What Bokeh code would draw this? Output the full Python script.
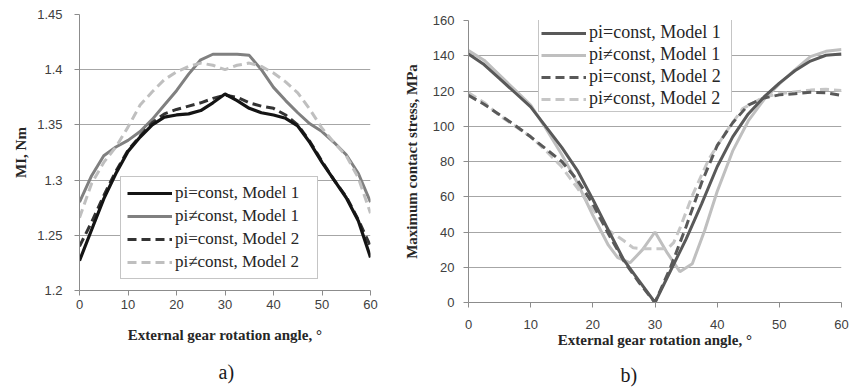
from bokeh.plotting import figure
from bokeh.layouts import row, column
from bokeh.models import Legend, LegendItem, Title, FixedTicker, NumeralTickFormatter, Range1d
from bokeh.embed import file_html
from bokeh.resources import INLINE

# ---------- panel a) data ----------
angle_a = [0, 2.5, 5, 7.5, 10, 12.5, 15, 17.5, 20, 22.5, 25, 27.5, 30,
           32.5, 35, 37.5, 40, 42.5, 45, 47.5, 50, 52.5, 55, 57.5, 60]
ml_const_m1 = [1.227, 1.255, 1.283, 1.306, 1.326, 1.339, 1.350, 1.357, 1.359, 1.360, 1.363, 1.370, 1.378,
               1.372, 1.365, 1.361, 1.359, 1.356, 1.349, 1.334, 1.316, 1.300, 1.284, 1.263, 1.230]
ml_var_m1 = [1.280, 1.304, 1.322, 1.330, 1.336, 1.344, 1.355, 1.368, 1.381, 1.396, 1.409, 1.414, 1.414,
             1.414, 1.413, 1.400, 1.384, 1.372, 1.361, 1.351, 1.344, 1.334, 1.323, 1.306, 1.280]
ml_const_m2 = [1.240, 1.262, 1.286, 1.308, 1.327, 1.340, 1.352, 1.360, 1.364, 1.367, 1.370, 1.374, 1.377,
               1.375, 1.370, 1.367, 1.365, 1.359, 1.350, 1.335, 1.317, 1.300, 1.285, 1.264, 1.240]
ml_var_m2 = [1.266, 1.297, 1.316, 1.330, 1.348, 1.368, 1.380, 1.391, 1.398, 1.403, 1.406, 1.404, 1.400,
             1.404, 1.406, 1.403, 1.397, 1.389, 1.379, 1.364, 1.347, 1.334, 1.322, 1.302, 1.270]

# ---------- panel b) data ----------
angle_b = [0, 2.5, 5, 7.5, 10, 12.5, 15, 17.5, 20, 22.5, 25, 27.5, 30,
           32.5, 35, 37.5, 40, 42.5, 45, 47.5, 50, 52.5, 55, 57.5, 60]
st_const_m1 = [141, 135, 127, 119, 111, 99.5, 88, 75, 58.5, 41, 24, 12, 0,
               18, 36, 56, 77, 94, 107, 116.5, 124.5, 131.5, 137, 140.3, 141]
st_const_m2 = [117.5, 112.5, 106.5, 100.5, 94, 87, 80, 69.5, 56, 39, 23.5, 11, 0,
               20, 43, 68, 89, 102, 112, 116, 117.8, 118.5, 119.3, 119, 117.5]

angle_b_var1 = [0, 2.5, 5, 7.5, 10, 12.5, 15, 17.5, 20, 22.5, 24, 26, 28, 30,
                32, 34, 36, 38, 40, 42.5, 45, 47.5, 50, 52.5, 55, 57.5, 60]
st_var_m1 = [143, 137.5, 129, 120.5, 112, 98.5, 84, 68, 49.5, 32.5, 25.5, 22.5, 30, 40,
             28, 17.5, 22, 41, 63, 86, 103, 115, 124, 132, 139.5, 142.5, 143.5]

angle_b_var2 = [0, 2.5, 5, 7.5, 10, 12.5, 15, 17.5, 20, 22.5, 25, 26.5, 28, 30,
                32, 33, 34, 36, 38.7, 41.4, 44.1, 47.5, 50, 52.5, 55, 57.5, 60]
st_var_m2 = [119, 113.5, 106, 100, 94, 86, 77, 65, 53, 41, 35, 31, 30.5, 30.5,
             30.5, 34, 42, 60.7, 81.6, 96.6, 110, 116.5, 118.5, 119.5, 120.5, 121, 120.3]

labels = ["pi=const, Model 1", "pi\u2260const, Model 1", "pi=const, Model 2", "pi\u2260const, Model 2"]

TICK_FONT = "Liberation Sans"
SERIF = "Liberation Serif"


def style(p, xlabel, ylabel):
    p.title_location = None
    p.outline_line_color = None
    p.xgrid.grid_line_color = None
    p.ygrid.grid_line_color = "#a6a6a6"
    p.ygrid.grid_line_width = 1
    for ax in (p.xaxis[0], p.yaxis[0]):
        ax.axis_line_color = "#8c8c8c"
        ax.major_tick_line_color = "#8c8c8c"
        ax.major_tick_out = 5
        ax.major_tick_in = 0
        ax.minor_tick_out = 0
        ax.minor_tick_in = 0
        ax.major_label_text_font = TICK_FONT
        ax.major_label_text_font_size = "13px"
        ax.major_label_text_color = "#404040"
        ax.axis_label_text_font = SERIF
        ax.axis_label_text_font_style = "bold"
        ax.axis_label_text_font_size = "15px"
        ax.axis_label_text_color = "#262626"
    p.xaxis.axis_label = xlabel
    p.yaxis.axis_label = ylabel
    p.xaxis.ticker = FixedTicker(ticks=[0, 10, 20, 30, 40, 50, 60])


def make_legend(renderers, loc, font_size, item_h, spacing, padding, label_w):
    leg = Legend(items=[LegendItem(label=lab, renderers=[r]) for lab, r in zip(labels, renderers)],
                 location=loc)
    leg.label_text_font = SERIF
    leg.label_text_font_size = font_size
    leg.label_text_color = "#262626"
    leg.glyph_width = 45
    leg.glyph_height = item_h
    leg.label_height = item_h
    leg.label_width = label_w
    leg.label_standoff = 3
    leg.spacing = spacing
    leg.padding = padding
    leg.margin = 0
    leg.border_line_color = "#8c8c8c"
    leg.background_fill_alpha = 1
    return leg


def caption(text, offset, standoff):
    return Title(text=text, align="left", offset=offset, standoff=standoff,
                 text_font=SERIF, text_font_size="20px", text_font_style="normal",
                 text_color="#1a1a1a")


# ---------- panel a ----------
p1 = figure(width=400, height=389, frame_width=291, frame_height=276,
            min_border_left=79, min_border_right=30, min_border_top=14, min_border_bottom=99,
            x_range=Range1d(0, 60), y_range=Range1d(1.2, 1.45),
            output_backend="svg", toolbar_location=None)
style(p1, "External gear rotation angle, \u00b0", "MI, Nm")
p1.yaxis.ticker = FixedTicker(ticks=[1.2, 1.25, 1.3, 1.35, 1.4, 1.45])
p1.yaxis.formatter = NumeralTickFormatter(format="0.[00]")
p1.yaxis.major_label_standoff = 12
p1.xaxis.major_label_standoff = 4
p1.xaxis.axis_label_standoff = 15

a2 = p1.line(angle_a, ml_var_m1, line_color="#808080", line_width=3)
a4 = p1.line(angle_a, ml_var_m2, line_color="#bfbfbf", line_width=3, line_dash="9 5")
a3 = p1.line(angle_a, ml_const_m2, line_color="#333333", line_width=3, line_dash="9 5")
a1 = p1.line(angle_a, ml_const_m1, line_color="#141414", line_width=3.2)
p1.add_layout(make_legend([a1, a2, a3, a4], (41, 11), "17px", 20, 3, 6, 136))
p1.add_layout(caption("a)", 139, 26), "below")

# ---------- panel b ----------
p2 = figure(width=452, height=389, frame_width=373, frame_height=282,
            min_border_left=68, min_border_right=11, min_border_top=20, min_border_bottom=87,
            x_range=Range1d(0, 60), y_range=Range1d(0, 160),
            output_backend="svg", toolbar_location=None)
style(p2, "External gear rotation angle, \u00b0", "Maximum contact stress, MPa")
p2.yaxis.ticker = FixedTicker(ticks=[0, 20, 40, 60, 80, 100, 120, 140, 160])
p2.yaxis.major_label_standoff = 9
p2.yaxis.axis_label_standoff = 10
p2.xaxis.major_label_standoff = 12
p2.xaxis.axis_label_standoff = 0

b2 = p2.line(angle_b_var1, st_var_m1, line_color="#bfbfbf", line_width=3)
b4 = p2.line(angle_b_var2, st_var_m2, line_color="#c6c6c6", line_width=3, line_dash="9 5")
b1 = p2.line(angle_b, st_const_m1, line_color="#595959", line_width=3)
b3 = p2.line(angle_b, st_const_m2, line_color="#595959", line_width=3, line_dash="9 5")
p2.add_layout(make_legend([b1, b2, b3, b4], (70, 190), "18px", 20, 1, 2, 140))
p2.add_layout(caption("b)", 152, 22), "below")

layout = row(column(p1), column(p2))
open("out.html", "w").write(file_html(layout, INLINE))
